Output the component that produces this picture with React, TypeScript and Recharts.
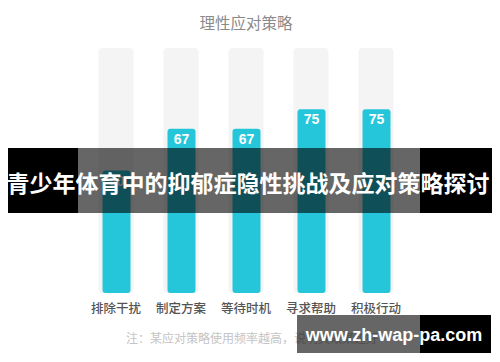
import { BarChart, Bar, XAxis, YAxis, LabelList } from 'recharts';

const categories = ['排除干扰', '制定方案', '等待时机', '寻求帮助', '积极行动'];
const usage = [50, 67, 67, 75, 75];
const trackMax = 100;

const chartTitle = '理性应对策略';
const noteText = '注：某应对策略使用频率越高，说明其效果越好';
const bannerText = '青少年体育中的抑郁症隐性挑战及应对策略探讨';
const watermarkText = 'www.zh-wap-pa.com';

const CJK = '"Noto Sans CJK SC", "Noto Sans", sans-serif';
const LATIN = '"Liberation Sans", Arial, "Noto Sans CJK SC", sans-serif';

const data = categories.map((name, i) => ({ name, value: usage[i], track: trackMax }));

const ValueTag = (props: any) => {
    const { x, y, width, value } = props;
    return (
        <text
            x={x + width / 2}
            y={y + 10}
            textAnchor="middle"
            dominantBaseline="central"
            fill="#fff"
            fontSize={14}
            fontWeight={600}
            fontFamily={LATIN}
        >
            {value}
        </text>
    );
};

const App = () => {
    return (
        <div style={{ position: 'relative', width: 484, height: 346 }}>
            <BarChart
                width={484}
                height={346}
                data={data}
                margin={{ top: 40, right: 83.5, left: 75.5, bottom: 31 }}
            >
                <XAxis
                    xAxisId="bg"
                    dataKey="name"
                    axisLine={false}
                    tickLine={false}
                    tickMargin={5}
                    height={30}
                    interval={0}
                    tick={{ fill: '#555', fontSize: 12.5, fontWeight: 500, fontFamily: CJK }}
                />
                <XAxis xAxisId="fg" dataKey="name" hide />
                <YAxis hide domain={[0, trackMax]} />
                <Bar
                    xAxisId="bg"
                    dataKey="track"
                    barSize={35}
                    fill="#f4f4f4"
                    radius={4}
                    isAnimationActive={false}
                />
                <Bar
                    xAxisId="fg"
                    dataKey="value"
                    barSize={28}
                    fill="#26c6da"
                    radius={3}
                    isAnimationActive={false}
                >
                    <LabelList dataKey="value" content={ValueTag} />
                </Bar>
            </BarChart>

            <svg
                width={484}
                height={346}
                style={{ position: 'absolute', left: 0, top: 0, pointerEvents: 'none' }}
            >
                <text x={238} y={14} textAnchor="middle" dominantBaseline="central" fill="#8a8a8a" fontSize={15.5} fontFamily={CJK}>
                    {chartTitle}
                </text>
                <text x={118} y={329} dominantBaseline="central" fill="#c4c4c4" fontSize={12} fontFamily={CJK}>
                    {noteText}
                </text>

                {/* banner across the middle */}
                <rect x={0} y={140} width={70} height={65} fill="#000" />
                <rect x={70} y={140} width={342} height={65} fill="rgba(0,0,0,0.6)" />
                <rect x={412} y={140} width={72} height={65} fill="#000" />
                <text x={240} y={174} textAnchor="middle" dominantBaseline="central" fill="#fff" fontSize={23} fontWeight={700} fontFamily={CJK}>
                    {bannerText}
                </text>

                {/* watermark bottom right */}
                <rect x={289} y={307} width={123} height={38} fill="rgba(0,0,0,0.6)" />
                <rect x={412} y={307} width={71} height={38} fill="#000" />
                <text x={386} y={327} textAnchor="middle" dominantBaseline="central" fill="#fff" fontSize={18} fontWeight={700} fontFamily={LATIN}>
                    {watermarkText}
                </text>
            </svg>
        </div>
    );
};

export default App;
